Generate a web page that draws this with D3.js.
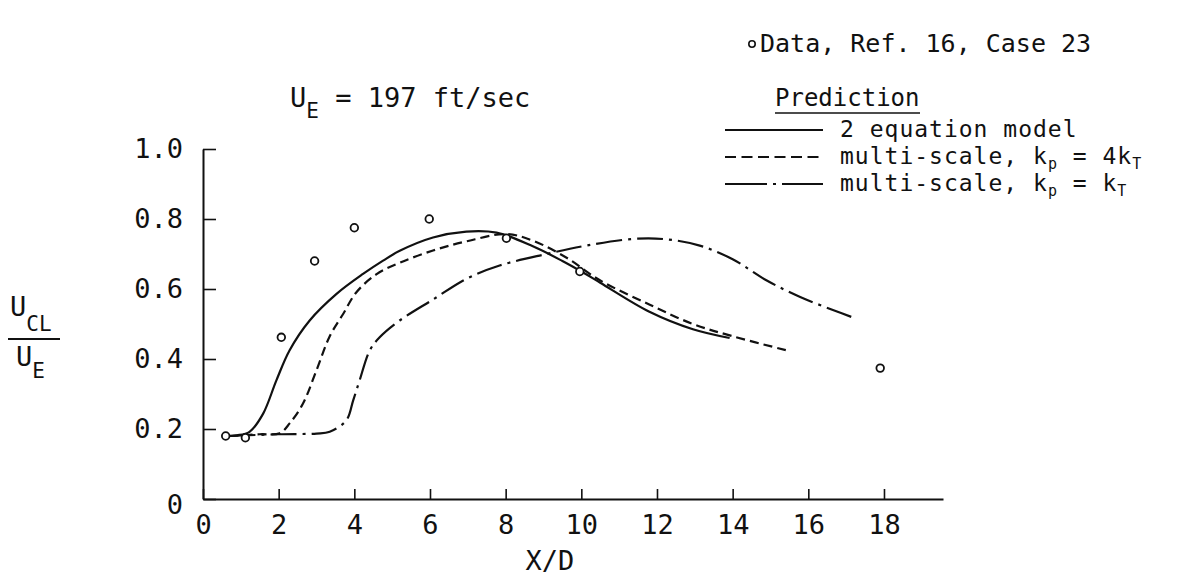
<!DOCTYPE html>
<html>
<head>
<meta charset="utf-8">
<script src="https://cdn.jsdelivr.net/npm/d3@7"></script>
<style>
  html, body { margin: 0; padding: 0; background: #fff; }
  svg { display: block; }
  text { font-family: "DejaVu Sans Mono", monospace; fill: #111; }
</style>
</head>
<body>
<svg id="chart" width="1184" height="582"></svg>
<script>
// Centreline velocity decay, X/D vs U_CL/U_E
const xTickValues = [0, 2, 4, 6, 8, 10, 12, 14, 16, 18];
const yTickValues = [0, 0.2, 0.4, 0.6, 0.8, 1.0];
const yTickLabels = ["0", "0.2", "0.4", "0.6", "0.8", "1.0"];

// measured data (open circles)
const dataX = [0.6, 1.12, 2.07, 2.95, 4.0, 5.98, 8.02, 9.96, 17.9];
const dataY = [0.18, 0.175, 0.462, 0.68, 0.775, 0.80, 0.745, 0.65, 0.374];

// 2 equation model
const twoEqX = [0.6, 0.9, 1.23, 1.59, 1.94, 2.29, 2.82, 3.53, 4.23, 4.76, 5.2, 6.08, 6.96, 7.76, 8.72, 9.5, 10.0, 10.5, 11.8, 12.95, 13.92];
const twoEqY = [0.18, 0.182, 0.192, 0.244, 0.339, 0.425, 0.51, 0.586, 0.643, 0.681, 0.709, 0.747, 0.764, 0.761, 0.722, 0.68, 0.65, 0.618, 0.535, 0.485, 0.46];

// multi-scale, kp = 4kT
const ms4X = [0.7, 1.5, 2.03, 2.29, 2.64, 3.0, 3.35, 3.7, 4.05, 4.58, 5.2, 6.08, 6.96, 8.02, 8.72, 9.6, 10.49, 11.81, 12.95, 14.0, 15.42];
const ms4Y = [0.18, 0.185, 0.188, 0.216, 0.272, 0.368, 0.465, 0.528, 0.59, 0.642, 0.675, 0.71, 0.736, 0.757, 0.738, 0.69, 0.625, 0.555, 0.5, 0.465, 0.425];

// multi-scale, kp = kT
const ms1X = [0.7, 2.0, 3.0, 3.35, 3.79, 3.97, 4.14, 4.41, 4.67, 5.2, 6.08, 6.96, 7.84, 9.08, 10.13, 11.37, 12.25, 13.13, 14.0, 14.89, 15.77, 16.65, 17.27];
const ms1Y = [0.18, 0.185, 0.187, 0.192, 0.225, 0.282, 0.339, 0.425, 0.462, 0.51, 0.57, 0.629, 0.667, 0.7, 0.724, 0.743, 0.742, 0.724, 0.685, 0.625, 0.578, 0.54, 0.515];

const svg = d3.select("#chart");

const x = d3.scaleLinear().domain([0, 19.56]).range([203, 943]);
const y = d3.scaleLinear().domain([0, 1]).range([499, 149]);

// axes
const xAxis = d3.axisBottom(x)
  .tickValues(xTickValues)
  .tickSizeInner(-10)
  .tickSizeOuter(0)
  .tickPadding(16)
  .tickFormat(d => String(d));
const gx = svg.append("g").attr("transform", `translate(0,${y(0)})`).call(xAxis);
gx.select(".domain").attr("stroke", "#111").attr("stroke-width", 2);
gx.selectAll(".tick line").attr("stroke", "#111").attr("stroke-width", 1.6);
gx.selectAll(".tick text")
  .attr("font-family", "DejaVu Sans Mono, monospace")
  .attr("font-size", 27).attr("fill", "#111");

const yAxis = d3.axisLeft(y)
  .tickValues(yTickValues)
  .tickSizeInner(-13)
  .tickSizeOuter(0)
  .tickPadding(20)
  .tickFormat((d, i) => yTickLabels[i]);
const gy = svg.append("g").attr("transform", `translate(${x(0)},0)`).call(yAxis);
gy.select(".domain").attr("stroke", "#111").attr("stroke-width", 2);
gy.selectAll(".tick line").attr("stroke", "#111").attr("stroke-width", 1.6);
gy.selectAll(".tick text")
  .attr("font-family", "DejaVu Sans Mono, monospace")
  .attr("font-size", 27).attr("fill", "#111");
gy.selectAll(".tick").filter(d => d === 0).select("text").attr("dy", "0.55em");

// prediction curves
const line = d3.line()
  .x(d => x(d[0]))
  .y(d => y(d[1]))
  .curve(d3.curveCatmullRom.alpha(0.5));

const series = [
  { xs: twoEqX, ys: twoEqY, dash: null },
  { xs: ms4X, ys: ms4Y, dash: "9,5" },
  { xs: ms1X, ys: ms1Y, dash: "26,6,3,6" }
];
series.forEach(s => {
  svg.append("path")
    .datum(s.xs.map((v, i) => [v, s.ys[i]]))
    .attr("d", line)
    .attr("fill", "none")
    .attr("stroke", "#111")
    .attr("stroke-width", 2.2)
    .attr("stroke-dasharray", s.dash);
});

// data points
svg.append("g").selectAll("circle")
  .data(dataX.map((v, i) => [v, dataY[i]]))
  .join("circle")
  .attr("cx", d => x(d[0]))
  .attr("cy", d => y(d[1]))
  .attr("r", 3.8)
  .attr("fill", "#fff")
  .attr("stroke", "#111")
  .attr("stroke-width", 1.8);

// axis titles
svg.append("text").attr("x", 550).attr("y", 570)
  .attr("text-anchor", "middle").attr("font-size", 27).text("X/D");

const yt = svg.append("g");
yt.append("text").attr("x", 10).attr("y", 316).attr("font-size", 27)
  .text("U").append("tspan").attr("font-size", 21).attr("dy", 15).text("CL");
yt.append("line").attr("x1", 8).attr("x2", 60).attr("y1", 339).attr("y2", 339)
  .attr("stroke", "#111").attr("stroke-width", 2);
yt.append("text").attr("x", 16).attr("y", 366).attr("font-size", 27)
  .text("U").append("tspan").attr("font-size", 21).attr("dy", 12).text("E");

// free-stream velocity note
const ue = svg.append("text").attr("x", 290).attr("y", 107).attr("font-size", 27);
ue.append("tspan").text("U");
ue.append("tspan").attr("font-size", 21).attr("dy", 11).text("E");
ue.append("tspan").attr("dy", -11).text(" = 197 ft/sec");

// data key
svg.append("circle").attr("cx", 752).attr("cy", 44).attr("r", 3.2)
  .attr("fill", "#fff").attr("stroke", "#111").attr("stroke-width", 1.6);
svg.append("text").attr("x", 760).attr("y", 52).attr("font-size", 25)
  .text("Data, Ref. 16, Case 23");

// prediction legend
svg.append("text").attr("x", 775).attr("y", 106).attr("font-size", 24).text("Prediction");
svg.append("line").attr("x1", 775).attr("x2", 920).attr("y1", 113).attr("y2", 113)
  .attr("stroke", "#111").attr("stroke-width", 1.6);

const legendRows = [
  { y: 130, dash: null, main: "2 equation model", sub1: null, mid: null, sub2: null },
  { y: 157, dash: "11,5.5", main: "multi-scale, k", sub1: "p", mid: " = 4k", sub2: "T" },
  { y: 184, dash: "42,6,3,6,42", main: "multi-scale, k", sub1: "p", mid: " = k", sub2: "T" }
];
legendRows.forEach(r => {
  svg.append("line").attr("x1", 725).attr("x2", 823).attr("y1", r.y).attr("y2", r.y)
    .attr("stroke", "#111").attr("stroke-width", 2)
    .attr("stroke-dasharray", r.dash);
  const t = svg.append("text").attr("x", 840).attr("y", r.y + 7)
    .attr("font-size", 23).attr("letter-spacing", 1);
  t.append("tspan").text(r.main);
  if (r.sub1) {
    t.append("tspan").attr("font-size", 15).attr("dy", 5).text(r.sub1);
    t.append("tspan").attr("dy", -5).text(r.mid);
    t.append("tspan").attr("font-size", 15).attr("dy", 5).text(r.sub2);
  }
});
</script>
</body>
</html>
